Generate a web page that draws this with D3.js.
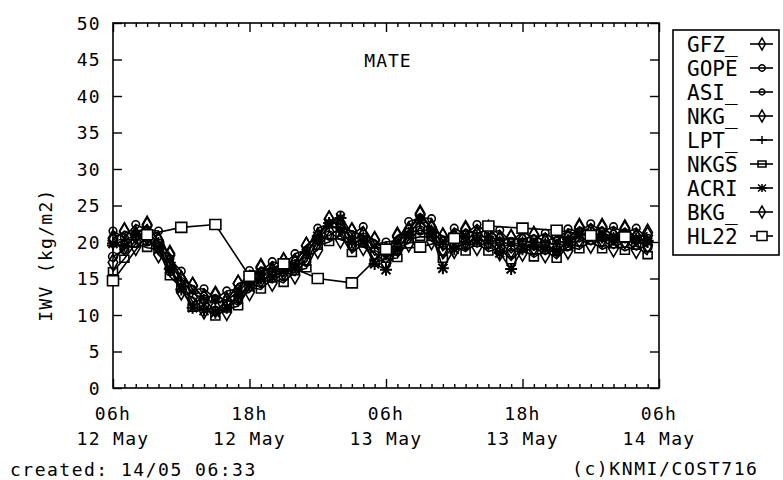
<!DOCTYPE html>
<html><head><meta charset="utf-8">
<script src="https://cdn.jsdelivr.net/npm/d3@7"></script>
<style>body{margin:0;background:#fff}</style>
</head><body><svg id="c" width="783" height="480"></svg>
<script>
// ---------- DATA ----------
const hours = [0,1,2,3,4,5,6,7,8,9,10,11,12,13,14,15,16,17,18,19,20,21,22,23,24,25,26,27,28,29,30,31,32,33,34,35,36,37,38,39,40,41,42,43,44,45,46,47];
const GFZ  = [20.2,21.5,21.0,22.2,20.1,18.4,14.8,14.0,12.4,12.6,12.0,14.3,14.7,16.4,15.9,17.3,17.2,19.5,20.8,23.1,22.4,21.4,20.9,20.2,18.8,20.7,21.6,23.9,22.0,20.7,20.6,21.6,21.1,21.8,20.4,20.5,20.3,20.9,20.0,20.7,20.6,21.9,21.3,21.9,20.9,21.7,20.7,20.9];
const GOPE = [18.0,19.0,20.9,20.1,19.8,16.0,14.5,11.8,12.1,10.6,11.9,12.0,14.5,14.4,15.9,15.3,16.9,17.3,20.3,20.9,21.9,19.5,20.6,18.2,18.5,18.8,21.3,21.6,21.5,18.8,20.4,19.6,20.7,19.7,20.0,18.5,19.9,18.9,19.7,18.8,20.2,20.0,20.9,20.0,20.5,19.9,20.3,19.3];
const ASI  = [21.5,20.6,22.4,21.6,21.5,17.7,16.0,13.5,13.6,12.2,13.3,13.6,16.1,15.9,17.3,16.8,18.4,18.9,21.9,22.5,23.7,21.0,22.1,19.7,20.0,20.2,22.8,23.3,23.2,20.1,21.9,21.0,22.4,21.1,21.6,19.9,21.5,20.4,21.2,20.1,21.8,21.4,22.5,21.4,22.1,21.2,21.9,20.5];
const NKG  = [17.2,19.4,19.3,20.7,18.3,16.5,13.2,12.4,10.6,11.1,10.4,12.6,13.1,14.9,14.4,15.9,15.4,17.8,18.9,21.4,20.3,19.9,19.3,18.6,17.1,19.2,19.8,22.1,20.1,19.1,18.9,20.1,19.3,20.1,18.6,18.9,18.5,19.3,18.3,19.1,18.8,20.4,19.6,20.4,19.1,20.2,18.9,19.6];
const LPT  = [19.5,20.3,20.9,21.2,20.0,17.2,14.7,13.0,12.2,11.7,12.0,13.2,14.7,15.5,16.0,16.4,17.0,18.4,20.5,22.0,22.0,20.5,20.8,19.2,18.7,19.8,21.4,22.7,21.7,19.7,20.5,20.7,20.9,20.7,20.2,19.5,20.1,19.9,19.9,19.7,20.4,21.0,21.2,21.0,20.7,20.8,20.5,20.2];
const NKGS = [16.0,17.7,19.8,19.2,19.0,15.3,13.7,11.0,11.2,9.8,10.9,11.2,13.8,13.5,15.0,14.4,16.0,16.4,19.5,20.0,20.9,18.5,19.8,17.2,17.7,17.8,20.4,20.7,20.7,17.7,19.5,18.7,19.9,18.7,19.2,17.5,19.1,17.9,18.9,17.7,19.4,19.0,20.2,19.0,19.7,18.8,19.5,18.2];
const ACRI = [19.8,19.5,21.0,20.6,19.0,16.3,13.5,11.0,10.6,10.3,11.0,12.6,14.2,15.0,15.2,16.0,16.5,18.5,20.8,22.6,23.3,20.0,20.2,17.0,16.2,19.0,21.0,23.0,21.2,16.4,19.0,20.0,20.3,20.1,18.5,16.3,19.0,19.6,19.0,18.8,20.0,21.0,21.2,20.6,20.4,20.9,20.4,20.0];
const BKG  = [20.5,21.4,20.9,22.4,20.2,18.2,14.9,14.0,12.3,12.8,11.9,14.3,14.8,16.6,16.1,17.4,17.1,19.5,20.7,23.1,22.0,21.5,20.9,20.3,18.8,20.9,21.5,23.7,21.8,20.8,20.6,21.8,21.0,21.8,20.3,20.6,20.2,21.0,20.0,20.8,20.5,22.1,21.3,22.1,20.8,21.9,20.6,21.3];
const hl22Hours = [0,3,6,9,12,15,18,21,24,27,30,33,36,39,42,45];
const HL22 = [14.7,21.0,22.0,22.4,15.3,17.0,15.0,14.4,19.0,19.3,20.5,22.2,21.9,21.6,20.9,20.7];

const seriesNames = ["GFZ_","GOPE","ASI_","NKG_","LPT_","NKGS","ACRI","BKG_","HL22"];
const yTicks = [0,5,10,15,20,25,30,35,40,45,50];
const xMajor = [0,12,24,36,48];
const xTickLabels = ["06h","18h","06h","18h","06h"];
const xDateLabels = ["12 May","12 May","13 May","13 May","14 May"];
const titleText = "MATE";
const yTitle = "IWV (kg/m2)";
const leftFoot = "created: 14/05 06:33";
const rightFoot = "(c)KNMI/COST716";

// ---------- DRAW ----------
const svg = d3.select('#c');
const FONT = "'DejaVu Sans Mono', 'Liberation Mono', monospace";
const M = {l:113, r:659, t:23, b:388};
const x = d3.scaleLinear().domain([0,48]).range([M.l,M.r]);
const y = d3.scaleLinear().domain([0,50]).range([M.b,M.t]);

svg.append('rect').attr('width',783).attr('height',480).attr('fill','#fff');

const minorHours = d3.range(0,49).filter(h => h % 12 !== 0);

function styleAxis(g){
  g.select('.domain').remove();
  g.selectAll('line').attr('stroke','#000').attr('stroke-width',1.4);
  g.attr('font-family',FONT).attr('font-size',18);
  g.selectAll('text').attr('fill','#000').attr('letter-spacing','1.3px');
}
svg.append('g').attr('transform',`translate(${M.l},0)`)
  .call(d3.axisLeft(y).tickValues(yTicks).tickSize(-9).tickPadding(12).tickFormat(d=>String(d)))
  .call(styleAxis)
  .selectAll('text').attr('dy','0.36em');
svg.append('g').attr('transform',`translate(${M.r},0)`)
  .call(d3.axisRight(y).tickValues(yTicks).tickSize(-9).tickFormat(''))
  .call(styleAxis);
svg.append('g').attr('transform',`translate(0,${M.b})`)
  .call(d3.axisBottom(x).tickValues(minorHours).tickSize(-4).tickFormat(''))
  .call(styleAxis);
svg.append('g').attr('transform',`translate(0,${M.b})`)
  .call(d3.axisBottom(x).tickValues(xMajor).tickSize(-9).tickFormat(''))
  .call(styleAxis);
svg.append('g').attr('transform',`translate(0,${M.t})`)
  .call(d3.axisTop(x).tickValues(minorHours).tickSize(-4).tickFormat(''))
  .call(styleAxis);
svg.append('g').attr('transform',`translate(0,${M.t})`)
  .call(d3.axisTop(x).tickValues(xMajor).tickSize(-9).tickFormat(''))
  .call(styleAxis);

const xl = svg.append('g').attr('font-family',FONT).attr('font-size',18).attr('fill','#000')
  .attr('text-anchor','middle').attr('letter-spacing','1.3px');
xl.selectAll('text.h').data(xMajor).join('text').attr('class','h')
  .attr('x',d=>x(d)).attr('y',420).text((d,i)=>xTickLabels[i]);
xl.selectAll('text.d').data(xMajor).join('text').attr('class','d')
  .attr('x',d=>x(d)).attr('y',445).text((d,i)=>xDateLabels[i]);

svg.append('rect').attr('x',M.l).attr('y',M.t).attr('width',M.r-M.l).attr('height',M.b-M.t)
  .attr('fill','none').attr('stroke','#000').attr('stroke-width',1.6);

svg.append('text').attr('x',388).attr('y',67).attr('text-anchor','middle')
  .attr('font-family',FONT).attr('font-size',18).attr('letter-spacing','1px').text(titleText);
svg.append('text').attr('transform','translate(52,255) rotate(-90)').attr('text-anchor','middle')
  .attr('font-family',FONT).attr('font-size',18).attr('letter-spacing','1.3px').text(yTitle);
svg.append('text').attr('x',10).attr('y',476)
  .attr('font-family',FONT).attr('font-size',18).attr('letter-spacing','1.5px').text(leftFoot);
svg.append('text').attr('x',572).attr('y',475)
  .attr('font-family',FONT).attr('font-size',18).attr('letter-spacing','1.6px').text(rightFoot);

// markers (plot size / legend size)
const MK = {
  circle: [d3.symbol(d3.symbolCircle, 60)(), d3.symbol(d3.symbolCircle, 32)()],
  circleS: [d3.symbol(d3.symbolCircle, 45)(), d3.symbol(d3.symbolCircle, 26)()],
  diamond: [d3.symbol(d3.symbolDiamond, 80)(), d3.symbol(d3.symbolDiamond, 40)()],
  plus: ["M-6,0H6M0,-5V5", "M-5,0H5M0,-4V4"],
  sq: ["M-4.5,-3.5H4.5V3.5H-4.5Z", "M-4,-3H4V3H-4Z"],
  star: ["M-6,0H6M0,-6V6M-4.5,-4.5L4.5,4.5M-4.5,4.5L4.5,-4.5", "M-5,0H5M0,-4V4M-4,-3.5L4,3.5M-4,3.5L4,-3.5"],
  bigsq: ["M-5.5,-5H5.5V5H-5.5Z", "M-5,-4.5H5V4.5H-5Z"]
};
const series = [
  {name:seriesNames[0], h:hours, v:GFZ,  m:'diamond'},
  {name:seriesNames[1], h:hours, v:GOPE, m:'circle'},
  {name:seriesNames[2], h:hours, v:ASI,  m:'circleS'},
  {name:seriesNames[3], h:hours, v:NKG,  m:'diamond'},
  {name:seriesNames[4], h:hours, v:LPT,  m:'plus'},
  {name:seriesNames[5], h:hours, v:NKGS, m:'sq'},
  {name:seriesNames[6], h:hours, v:ACRI, m:'star'},
  {name:seriesNames[7], h:hours, v:BKG,  m:'diamond'},
  {name:seriesNames[8], h:hl22Hours, v:HL22, m:'bigsq'}
];
const line = d3.line().x(d=>x(d[0])).y(d=>y(d[1]));
const plot = svg.append('g');
series.forEach(s => {
  const pts = s.h.map((h,i)=>[h, s.v[i]]);
  const g = plot.append('g');
  g.append('path').attr('d',line(pts)).attr('fill','none').attr('stroke','#000').attr('stroke-width',1.6);
  g.selectAll('path.m').data(pts).join('path').attr('class','m')
    .attr('transform',d=>`translate(${x(d[0])},${y(d[1])})`)
    .attr('d',MK[s.m][0])
    .attr('fill', s.m==='bigsq' ? '#fff' : 'none')
    .attr('stroke','#000').attr('stroke-width', s.m==='star'?2:1.6);
});

const lg = svg.append('g');
lg.append('rect').attr('x',673).attr('y',30).attr('width',106).attr('height',225)
  .attr('fill','#fff').attr('stroke','#000').attr('stroke-width',1.6);
series.forEach((s,i) => {
  const by = 52 + i*24;
  lg.append('text').attr('x',687).attr('y',by).attr('font-family',FONT).attr('font-size',21)
    .text(s.name);
  lg.append('line').attr('x1',750).attr('x2',773).attr('y1',by-8).attr('y2',by-8)
    .attr('stroke','#000').attr('stroke-width',1.6);
  lg.append('path').attr('transform',`translate(762,${by-8})`).attr('d',MK[s.m][1])
    .attr('fill', s.m==='bigsq' ? '#fff' : 'none').attr('stroke','#000').attr('stroke-width',1.5);
});
</script></body></html>
